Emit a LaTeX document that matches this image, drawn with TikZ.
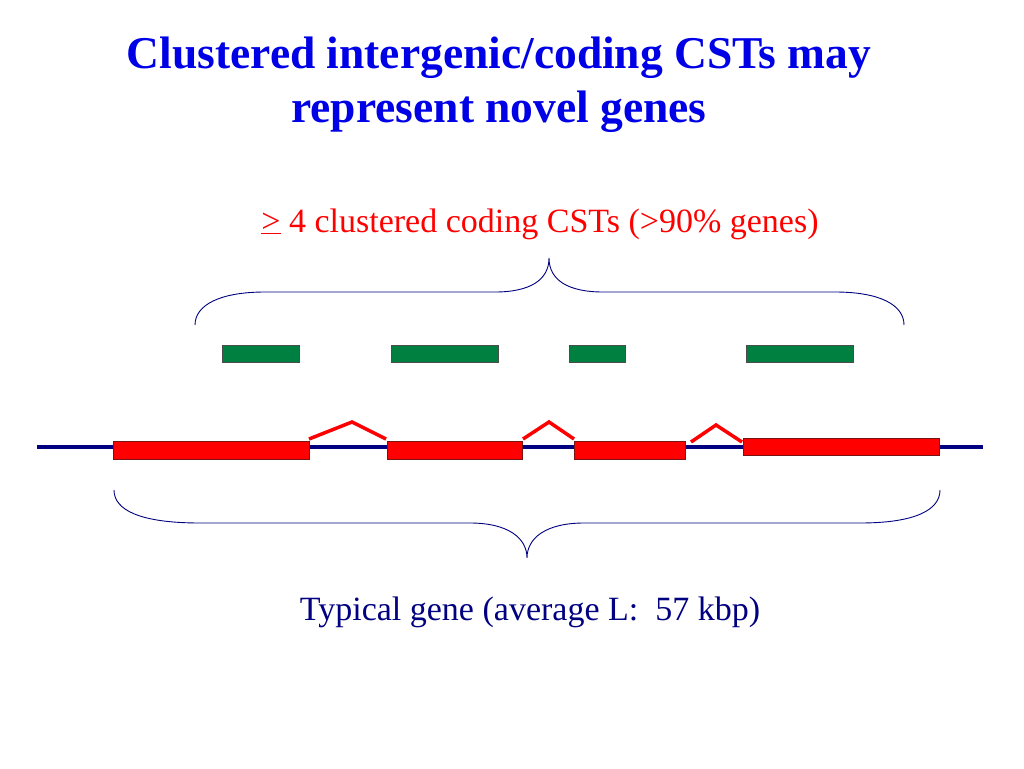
\documentclass[tikz,border=0pt]{standalone}
\usepackage{fontspec}
\setmainfont{Liberation Serif}
\definecolor{titleblue}{RGB}{0,0,230}
\definecolor{navyline}{RGB}{0,0,128}
\definecolor{cstgreen}{RGB}{0,128,64}
\definecolor{exonred}{RGB}{255,0,0}
\definecolor{exonedge}{RGB}{120,20,20}
\begin{document}
\begin{tikzpicture}[x=1pt,y=-1pt,
  titletext/.style={anchor=base,inner sep=0pt,text=titleblue,font=\fontsize{45.5}{50}\selectfont\bfseries},
  redtext/.style={anchor=base,inner sep=0pt,text=exonred,font=\fontsize{34}{38}\selectfont},
  navytext/.style={anchor=base,inner sep=0pt,text=navyline,font=\fontsize{34}{38}\selectfont},
  cst/.style={fill=cstgreen,draw=black!70,line width=0.8pt},
  exon/.style={fill=exonred,draw=exonedge,line width=0.8pt},
  intron/.style={draw=exonred,line width=3.5pt},
  gline/.style={draw=navyline,line width=4pt},
  bracepath/.style={draw=navyline,line width=0.9pt}]
\useasboundingbox (0,0) rectangle (1024,768);
\fill[white] (0,0) rectangle (1024,768);
% titles
\node[titletext] (t1) at (499,68) {Clustered intergenic/coding CSTs may};
\node[titletext] (t2) at (499,122) {represent novel genes};
\node[redtext] (lab1) at (540,232) {\underline{>} 4 clustered coding CSTs (>90\% genes)};
\node[navytext] (lab2) at (530,620) {Typical gene (average L:\ \ 57 kbp)};
% upper brace
\draw[bracepath] (195,325) .. controls (195,305) and (220,292) .. (265,292) -- (495,292)
  .. controls (530,292) and (549,280) .. (549,258)
  .. controls (549,280) and (568,292) .. (603,292) -- (835,292)
  .. controls (880,292) and (904,305) .. (904,325);
% green CSTs
\draw[cst] (222,345) rectangle (299,362);
\draw[cst] (391,345) rectangle (498,362);
\draw[cst] (569,345) rectangle (625,362);
\draw[cst] (746,345) rectangle (853,362);
% gene line
\coordinate (gL) at (37,447);
\coordinate (gR) at (983,447);
\draw[gline] (gL) -- (gR);
% exons
\node[exon,inner sep=0pt,minimum width=196pt,minimum height=18pt] (e1) at (211,450) {};
\node[exon,inner sep=0pt,minimum width=135pt,minimum height=18pt] (e2) at (454.5,450) {};
\node[exon,inner sep=0pt,minimum width=111pt,minimum height=18pt] (e3) at (629.5,450) {};
\node[exon,inner sep=0pt,minimum width=196pt,minimum height=17pt] (e4) at (841,446.5) {};
% introns
\draw[intron] (309,439) -- (352,422) -- (386,439);
\draw[intron] (523,439) -- (549,422) -- (574,439);
\draw[intron] (691,442) -- (716,425) -- (742,442);
% lower brace
\draw[bracepath] (114,490) .. controls (114,510) and (140,523) .. (200,523) -- (470,523)
  .. controls (508,523) and (527,538) .. (527,558)
  .. controls (527,538) and (546,523) .. (584,523) -- (860,523)
  .. controls (915,523) and (940,510) .. (940,490);
\end{tikzpicture}
\end{document}
